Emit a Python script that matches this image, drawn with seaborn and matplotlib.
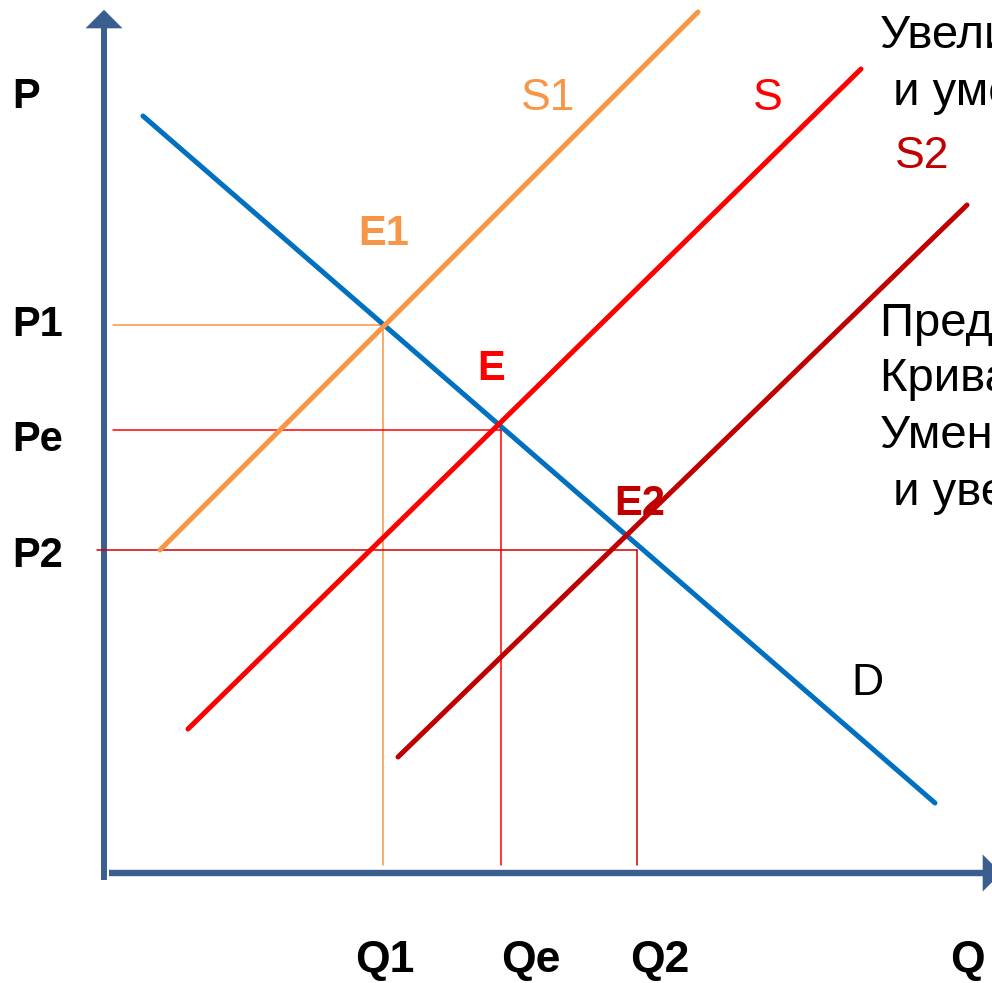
import numpy as np
import pandas as pd
import matplotlib
matplotlib.use("Agg")
import matplotlib.pyplot as plt
import seaborn as sns

# canvas units: Q to the right, P upwards (0..992 x 0..983)
curves = ["D", "S1", "S", "S2"]
q_start = [143, 160, 188, 398]
q_end = [935, 698, 861, 967]
p_start = [867, 433, 254, 226]
p_end = [180, 971, 914, 778]
curve_colors = ["#0070C0", "#F79646", "#FF0000", "#C00000"]

# equilibria E1, E, E2 and their guide lines
eq_names = ["E1", "E", "E2"]
eq_q = [383, 501, 637]
eq_p = [658, 553, 433]
guide_from = [113, 113, 97]
guide_colors = ["#F79646", "#FF0000", "#D00000"]
eq_label_colors = ["#F79646", "#FF0000", "#C00000"]
price_labels = ["P1", "Pe", "P2"]
qty_labels = ["Q1", "Qe", "Q2"]

right_text = ["Увеличение цены", " и уменьшение объёма",
              "Предложение растёт", "Кривая S сдвигается вправо",
              "Уменьшение цены", " и увеличение объёма"]

sns.set_theme(style="white")
plt.rcParams["font.family"] = ["Liberation Sans", "DejaVu Sans"]
plt.rcParams["text.color"] = "black"

fig = plt.figure(figsize=(9.92, 9.83), dpi=100)
ax = fig.add_axes([0, 0, 1, 1])
ax.set_xlim(0, 992)
ax.set_ylim(0, 983)
ax.axis("off")

axis_col = "#3A5F8F"
# axes with arrows
ax.plot([104, 104], [103, 960], color=axis_col, lw=4.3, solid_capstyle="butt")
ax.annotate("", xy=(104, 976), xytext=(104, 940), annotation_clip=False,
            arrowprops=dict(arrowstyle="-|>,head_length=0.6,head_width=0.6",
                            color=axis_col, lw=0.1, mutation_scale=22))
ax.plot([109, 985], [110, 110], color=axis_col, lw=4.6, solid_capstyle="butt")
ax.annotate("", xy=(1004, 110), xytext=(970, 110), annotation_clip=False,
            arrowprops=dict(arrowstyle="-|>,head_length=0.6,head_width=0.6",
                            color=axis_col, lw=0.1, mutation_scale=22))

# guide lines
for qe, pe, x0, c in zip(eq_q, eq_p, guide_from, guide_colors):
    ax.plot([x0, qe], [pe, pe], color=c, lw=1.1)
    ax.plot([qe, qe], [pe, 118], color=c, lw=1.1)

# demand and supply curves
df = pd.DataFrame({
    "curve": np.repeat(curves, 2),
    "Q": np.ravel(np.column_stack([q_start, q_end])),
    "P": np.ravel(np.column_stack([p_start, p_end])),
})
sns.lineplot(data=df, x="Q", y="P", hue="curve", palette=dict(zip(curves, curve_colors)),
             linewidth=3.6, legend=False, ax=ax, sort=False, estimator=None)

# axis labels
ax.text(12, 983 - 108, "P", fontsize=30, fontweight="bold", va="baseline")
for lab, pe, dy in zip(price_labels, eq_p, [0, -10, -6]):
    ax.text(12, pe + dy, lab, fontsize=30, fontweight="bold", va="center")
for lab, x in zip(qty_labels + ["Q"], [385, 531, 660, 967]):
    ax.text(x, 983 - 972, lab, fontsize=32, fontweight="bold", ha="center", va="baseline",
            family=["Liberation Sans Narrow", "Liberation Sans"])

# curve labels
ax.text(548, 983 - 110, "S1", fontsize=32, color=curve_colors[1], ha="center", va="baseline")
ax.text(768, 983 - 110, "S", fontsize=32, color=curve_colors[2], ha="center", va="baseline")
ax.text(922, 983 - 168, "S2", fontsize=32, color=curve_colors[3], ha="center", va="baseline")
ax.text(867, 983 - 695, "D", fontsize=32, color="black", ha="center", va="baseline")

# equilibrium labels
for name, x, y, c in zip(eq_names, [384, 491, 640], [245, 380, 515], eq_label_colors):
    ax.text(x, 983 - y, name, fontsize=30, fontweight="bold", color=c,
            ha="center", va="baseline")

# explanation text on the right, cut by the edge as in the original slide
for line, y in zip(right_text, [48, 105, 336, 391, 448, 505]):
    ax.text(880, 983 - y, line, fontsize=34, color="black", va="baseline")

fig.savefig("out.png", dpi=100)
